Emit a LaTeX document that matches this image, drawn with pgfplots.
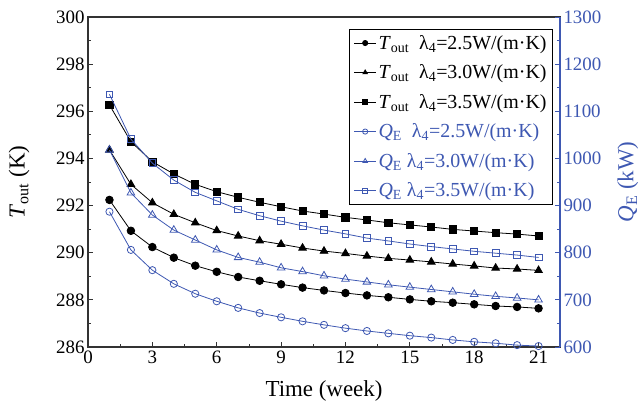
\documentclass[border=0pt]{standalone}
\usepackage{pgfplots}
\pgfplotsset{compat=1.18}
\usepackage{fontspec}
\setmainfont{Liberation Serif}
\definecolor{qblue}{RGB}{62,88,178}
\pgfplotsset{
  legend image code/.code={\draw[mark repeat=2,mark phase=2,#1] plot coordinates {(0bp,0bp)(11bp,0bp)(22bp,0bp)};},
  common/.style={
    at={(0,0)}, anchor=south west, scale only axis, width=472bp, height=330bp,
    xmin=0, xmax=22,
    tick align=inside, major tick length=5bp, minor tick length=3bp,
    /pgf/number format/assume math mode=true,
    /pgf/number format/1000 sep={},
    xticklabel={\pgfmathprintnumber[assume math mode=true]{\tick}},
    yticklabel={\pgfmathprintnumber[assume math mode=true]{\tick}},
    tick label style={font=\fontsize{19}{22}\selectfont},
    label style={font=\fontsize{23}{26}\selectfont},
  },
  tser/.style={black, line width=0.8bp, mark options={solid}},
  qser/.style={qblue, line width=0.8bp, mark options={solid, fill=white}},
}
\begin{document}
\begin{tikzpicture}[x=1bp,y=1bp]
\useasboundingbox (-88,-60) rectangle (553,347);
\begin{axis}[common,
  ymin=286, ymax=300,
  xtick={0,3,...,21}, ytick={286,288,...,300},
  minor x tick num=1, minor y tick num=1,
  tick pos=left,
  axis line style={black!80, line width=1.1bp},
  tick style={black!80, line width=0.8bp},
  xlabel={Time (week)},
  xlabel style={yshift=-10bp},
  ylabel={\textit{T}\textsubscript{out} (K)},
  ylabel style={at={(axis description cs:-0.1165,0.5)}, anchor=south},
]
\addplot[tser, mark=*, mark size=3.8bp] coordinates {
(1,292.24)(2,290.93)(3,290.24)(4,289.79)(5,289.45)(6,289.19)(7,288.97)(8,288.81)(9,288.66)(10,288.52)(11,288.40)(12,288.29)(13,288.19)(14,288.11)(15,288.02)(16,287.94)(17,287.88)(18,287.81)(19,287.74)(20,287.70)(21,287.64)};
\addplot[tser, mark=triangle*, mark size=4.4bp] coordinates {
(1,294.36)(2,292.90)(3,292.12)(4,291.63)(5,291.27)(6,290.94)(7,290.71)(8,290.51)(9,290.36)(10,290.20)(11,290.07)(12,289.97)(13,289.86)(14,289.76)(15,289.69)(16,289.61)(17,289.52)(18,289.44)(19,289.35)(20,289.31)(21,289.25)};
\addplot[tser, mark=square*, mark size=3.6bp] coordinates {
(1,296.27)(2,294.71)(3,293.86)(4,293.34)(5,292.90)(6,292.59)(7,292.35)(8,292.14)(9,291.95)(10,291.77)(11,291.64)(12,291.50)(13,291.39)(14,291.27)(15,291.18)(16,291.09)(17,290.99)(18,290.92)(19,290.85)(20,290.79)(21,290.71)};
\end{axis}
\begin{axis}[common,
  ymin=600, ymax=1300,
  axis x line=none, axis y line*=right,
  ytick={600,700,...,1300}, minor y tick num=1,
  y axis line style={qblue, line width=1.1bp},
  y tick style={qblue, line width=0.8bp},
  y tick label style={qblue},
  ylabel={\textit{Q}\textsubscript{E} (kW)},
  ylabel style={qblue, at={(axis description cs:1.1144,0.5)}, anchor=north},
  legend style={at={(rel axis cs:0.985,0.964)}, anchor=north east, draw=black, line width=0.8bp,
    font=\fontsize{20}{23}\selectfont, row sep=10bp, inner sep=4bp},
  legend cell align=left,
  legend image post style={mark size=2.6bp},
]
\addlegendimage{tser, mark=*}
\addlegendentry{\textit{T}\textsubscript{out}\ \ λ\textsubscript{4}=2.5W/(m·K)}
\addlegendimage{tser, mark=triangle*}
\addlegendentry{\textit{T}\textsubscript{out}\ \ λ\textsubscript{4}=3.0W/(m·K)}
\addlegendimage{tser, mark=square*}
\addlegendentry{\textit{T}\textsubscript{out}\ \ λ\textsubscript{4}=3.5W/(m·K)}
\addplot[qser, mark=o, mark size=3.6bp] coordinates {
(1,887)(2,806)(3,763)(4,734)(5,713)(6,697)(7,683)(8,672)(9,663)(10,654.5)(11,647)(12,640)(13,634)(14,629)(15,624)(16,620)(17,615)(18,611)(19,608)(20,604)(21,602)};
\addlegendentry{\textcolor{qblue}{\textit{Q}\textsubscript{E}\ \ λ\textsubscript{4}=2.5W/(m·K)}}
\addplot[qser, mark=triangle, mark size=4.4bp] coordinates {
(1,1018)(2,927)(3,880)(4,848)(5,827)(6,806)(7,790)(8,780)(9,768)(10,760)(11,751)(12,744)(13,738)(14,732)(15,727)(16,722)(17,717)(18,712)(19,707.5)(20,704)(21,700)};
\addlegendentry{\textcolor{qblue}{\textit{Q}\textsubscript{E} λ\textsubscript{4}=3.0W/(m·K)}}
\addplot[qser, mark=square, mark size=3.4bp] coordinates {
(1,1136)(2,1041)(3,990)(4,954)(5,928)(6,910)(7,892)(8,878.5)(9,867)(10,857)(11,848)(12,840)(13,831)(14,825)(15,818.5)(16,813)(17,808)(18,803)(19,799)(20,795)(21,790)};
\addlegendentry{\textcolor{qblue}{\textit{Q}\textsubscript{E} λ\textsubscript{4}=3.5W/(m·K)}}
\end{axis}
\end{tikzpicture}
\end{document}
